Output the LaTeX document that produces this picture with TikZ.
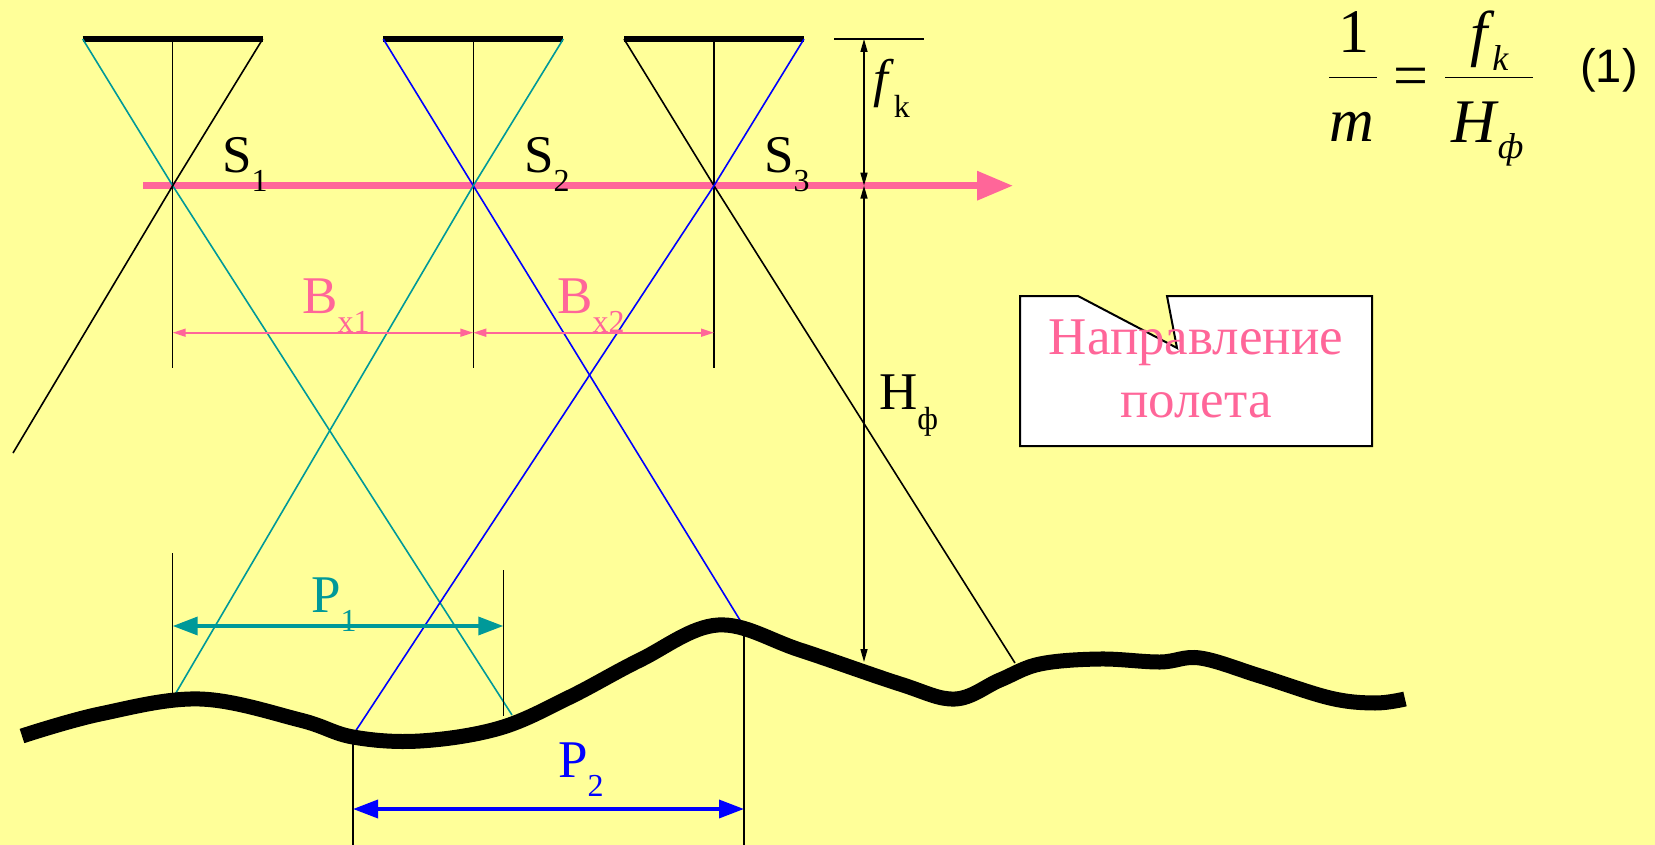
\documentclass[tikz,border=0pt]{standalone}
\usepackage{fontspec}
\setmainfont{Liberation Serif}
\newfontfamily\timesfont{Liberation Serif}
\newfontfamily\arialfont{Liberation Sans}
\usepackage{tikz}
\usetikzlibrary{arrows.meta}

\definecolor{bgyellow}{HTML}{FFFF99}
\definecolor{flightpink}{HTML}{FF6699}
\definecolor{rayteal}{HTML}{009999}
\definecolor{rayblue}{HTML}{0000FF}

\newcommand{\lowsub}[2][19pt]{\raisebox{-#1}{\timesfont\fontsize{32}{32}\selectfont #2}}

\begin{document}
\begin{tikzpicture}[
  x=1pt, y=-1pt,
  ray/.style={line width=1.6pt},
  axis/.style={line width=1.5pt},
  bar/.style={line width=6pt},
  ground/.style={line width=15pt},
  flight/.style={color=flightpink, line width=6.5pt, >={Triangle[length=36pt,width=28pt]}, ->},
  bxarrow/.style={color=flightpink, line width=1.6pt, >={Triangle[length=13pt,width=8pt]}, <->},
  parrow/.style={line width=3.5pt, >={Triangle[length=25pt,width=18pt]}, <->},
  dim/.style={line width=1.5pt, >={Triangle[length=13pt,width=7pt]}, <->},
  lbl/.style={inner sep=0pt, anchor=base west, font=\timesfont\fontsize{53}{63}\selectfont},
  frm/.style={inner sep=0pt, font=\timesfont\fontsize{62}{62}\selectfont}
]
  \fill[bgyellow] (0,0) rectangle (1655,845);
  \useasboundingbox (0,0) rectangle (1655,845);

  \coordinate (fstart) at (143,185.7);
  \coordinate (fend) at (1013,185.7);
  \draw[flight] (fstart) -- (fend);

  \foreach \cx/\n in {172.7/1, 473.3/2, 714/3} {
    \coordinate (S\n) at (\cx,185.7);
    \coordinate (L\n) at (\cx-90,39);
    \coordinate (R\n) at (\cx+90,39);
    \coordinate (A\n) at (\cx,39);
    \coordinate (Z\n) at (\cx,368);
    \draw[bar] (L\n) -- (R\n);
    \draw[axis] (A\n) -- (Z\n);
  }

  \coordinate (gt1) at (512,715);
  \coordinate (gk1) at (13,453);
  \coordinate (gt2) at (173,698);
  \coordinate (gb2) at (743,625);
  \coordinate (gk3) at (1015,663);
  \coordinate (gb3) at (353,735);
  \draw[ray, rayteal] (L1) -- (S1) -- (gt1);
  \draw[ray] (R1) -- (S1) -- (gk1);
  \draw[ray, rayblue] (L2) -- (S2) -- (gb2);
  \draw[ray, rayteal] (R2) -- (S2) -- (gt2);
  \draw[ray] (L3) -- (S3) -- (gk3);
  \draw[ray, rayblue] (R3) -- (S3) -- (gb3);

  \coordinate (bx1) at (172.7,332.7);
  \coordinate (bx2) at (473.3,332.7);
  \coordinate (bx3) at (714,332.7);
  \draw[bxarrow] (bx1) -- (bx2);
  \draw[bxarrow] (bx2) -- (bx3);

  \coordinate (tickL) at (834,39);
  \coordinate (tickR) at (924,39);
  \coordinate (fkTop) at (864,39);
  \coordinate (fkMid) at (864,185.7);
  \coordinate (hGround) at (864,662);
  \draw[axis] (tickL) -- (tickR);
  \draw[dim] (fkTop) -- (fkMid);
  \draw[dim] (fkMid) -- (hGround);

  \coordinate (p1a) at (172.7,553);
  \coordinate (p1b) at (172.7,693);
  \coordinate (p1c) at (503.3,570);
  \coordinate (p1d) at (503.3,716);
  \coordinate (p1l) at (172.7,626);
  \coordinate (p1r) at (503.3,626);
  \draw[axis] (p1a) -- (p1b);
  \draw[axis] (p1c) -- (p1d);
  \draw[parrow, rayteal] (p1l) -- (p1r);

  \coordinate (p2a) at (353,735);
  \coordinate (p2b) at (353,845);
  \coordinate (p2c) at (744,625);
  \coordinate (p2d) at (744,845);
  \coordinate (p2l) at (353,809);
  \coordinate (p2r) at (744,809);
  \draw[axis] (p2a) -- (p2b);
  \draw[axis] (p2c) -- (p2d);
  \draw[parrow, rayblue] (p2l) -- (p2r);

  \draw[ground] plot[smooth, tension=0.6] coordinates {
    (22,736) (100,714) (200,699) (300,720) (353,737) (420,741) (500,728)
    (570,697) (640,660) (718,625) (800,650) (900,684) (955,699) (1000,680)
    (1040,664) (1100,659) (1160,662) (1200,658) (1260,676) (1330,698)
    (1375,703) (1405,699)};

  \node[lbl] (s1) at (222,173) {S\lowsub{1}};
  \node[lbl] (s2) at (524,173) {S\lowsub{2}};
  \node[lbl] (s3) at (764,173) {S\lowsub{3}};
  \node[lbl, text=flightpink] (bxa) at (302,313) {B\lowsub{x1}};
  \node[lbl, text=flightpink] (bxb) at (557,313) {B\lowsub{x2}};
  \node[lbl, text=rayteal] (p1) at (311,612) {P\lowsub{1}};
  \node[lbl, text=rayblue] (p2) at (558,777) {P\lowsub{2}};
  \node[lbl] (fk) at (873,97) {{\itshape f}\kern6pt\lowsub[21pt]{k}};
  \node[lbl] (hf) at (879,409) {H\lowsub[20pt]{ф}};

  \draw[line width=2pt, fill=white] (1020,296) -- (1078,296) -- (1177,348)
    -- (1167,296) -- (1372,296) -- (1372,446) -- (1020,446) -- cycle;
  \node[inner sep=0pt, align=center, text=flightpink,
    font=\timesfont\fontsize{53}{63}\selectfont] (dir) at (1196,369)
    {Направление\\полета};

  \node[frm, anchor=base] (one) at (1354,53) {1};
  \draw[line width=1.5pt] (1329,77.7) -- (1377,77.7);
  \node[frm, anchor=base] (m) at (1352,141.7) {\itshape m};
  \node[frm, anchor=base] (eq) at (1411,97) {=};
  \node[frm, anchor=base west] (fnum) at (1470,55)
    {\itshape f\kern5pt\raisebox{-16pt}{\fontsize{36}{36}\selectfont k}};
  \draw[line width=1.5pt] (1445,77.7) -- (1533,77.7);
  \node[frm, anchor=base west] (hden) at (1451,143)
    {\itshape H\kern2pt\raisebox{-16pt}{\fontsize{36}{36}\selectfont ф}};
  \node[inner sep=0pt, anchor=base west, font=\arialfont\fontsize{47}{47}\selectfont]
    (eqno) at (1580,83) {(1)};
\end{tikzpicture}
\end{document}
